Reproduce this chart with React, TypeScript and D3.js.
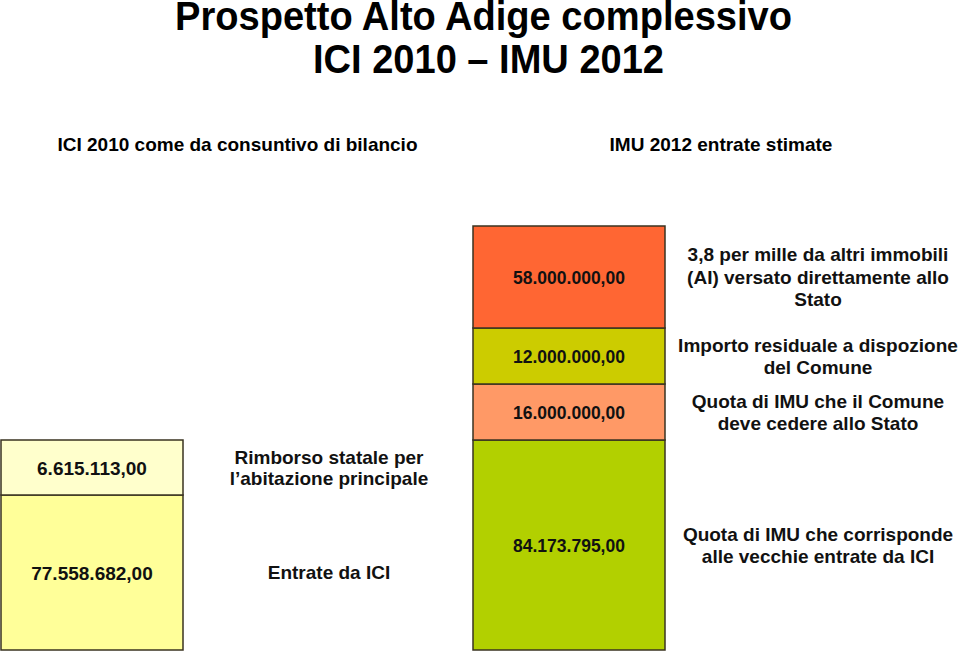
import React from "react";
import * as d3 from "d3";

// ---- data ----
const titleLines = ["Prospetto Alto Adige complessivo", "ICI 2010 \u2013 IMU 2012"];
const columnTitles = ["ICI 2010 come da consuntivo di bilancio", "IMU 2012 entrate stimate"];

const iciValues = [77558682, 6615113];
const iciLabels = [["Entrate da ICI"], ["Rimborso statale per", "l\u2019abitazione principale"]];
const iciColors = ["#FFFF99", "#FFFFCC"];

const imuValues = [84173795, 16000000, 12000000, 58000000];
const imuLabels = [
  ["Quota di IMU che corrisponde", "alle vecchie entrate da ICI"],
  ["Quota di IMU che il Comune", "deve cedere allo Stato"],
  ["Importo residuale a dispozione", "del Comune"],
  ["3,8 per mille da altri immobili", "(AI) versato direttamente allo", "Stato"],
];
const imuColors = ["#B2D000", "#FF9966", "#CCCC00", "#FF6633"];

const FONT = "'Liberation Sans', Arial, Helvetica, sans-serif";

const itLocale = d3.formatLocale({ decimal: ",", thousands: ".", grouping: [3], currency: ["", "\u20ac"] });
const fmt = itLocale.format(",.2f");

function stack(values: number[]) {
  let acc = 0;
  return values.map((v) => {
    const s = { y0: acc, y1: acc + v, v };
    acc += v;
    return s;
  });
}

export default function App() {
  const W = 960;
  const H = 654;
  const ici = stack(iciValues);
  const imu = stack(imuValues);

  // piecewise (non-proportional) vertical scale as in the original slide
  const breaks = Array.from(new Set([0, ...ici.map((d) => d.y1), ...imu.map((d) => d.y1)])).sort((a, b) => a - b);
  const y = d3.scaleLinear().domain(breaks).range([650, 495, 440, 384, 328, 226]);

  const cols = [
    { x: 1, w: 182, segs: ici, colors: iciColors, labels: iciLabels, numSize: 19, labelX: 329, labelSize: 19, lh: 20.5 },
    { x: 473, w: 192, segs: imu, colors: imuColors, labels: imuLabels, numSize: 17.5, labelX: 818, labelSize: 19, lh: 22.5 },
  ];

  return (
    <svg width={W} height={H} style={{ position: "absolute", left: 0, top: 0, background: "#fff" }} fontFamily={FONT}>
      <text x={483.5} y={29.5} textAnchor="middle" fontSize={40.5} fontWeight="bold" fill="#000" textLength={617} lengthAdjust="spacingAndGlyphs">{titleLines[0]}</text>
      <text x={488.5} y={72.5} textAnchor="middle" fontSize={40.5} fontWeight="bold" fill="#000" textLength={351} lengthAdjust="spacingAndGlyphs">{titleLines[1]}</text>
      <text x={237.5} y={151} textAnchor="middle" fontSize={19} fontWeight="bold">{columnTitles[0]}</text>
      <text x={721} y={151} textAnchor="middle" fontSize={19} fontWeight="bold">{columnTitles[1]}</text>

      {cols.map((c, ci) => (
        <g key={ci}>
          {c.segs.map((s, i) => {
            const top = y(s.y1);
            const bot = y(s.y0);
            const cy = (top + bot) / 2;
            const lines = c.labels[i];
            const l0 = cy - ((lines.length - 1) * c.lh) / 2 + 0.36 * c.labelSize;
            return (
              <g key={i}>
                <rect x={c.x} y={top} width={c.w} height={bot - top} fill={c.colors[i]} stroke="#3a3320" strokeWidth={1.5} />
                <text x={c.x + c.w / 2} y={cy + 0.38 * c.numSize} textAnchor="middle" fontSize={c.numSize} fontWeight="bold" fill="#111">
                  {fmt(s.v)}
                </text>
                <text textAnchor="middle" fontSize={c.labelSize} fontWeight="bold" fill="#111">
                  {lines.map((t, k) => (
                    <tspan key={k} x={c.labelX} y={l0 + k * c.lh}>{t}</tspan>
                  ))}
                </text>
              </g>
            );
          })}
        </g>
      ))}
    </svg>
  );
}
